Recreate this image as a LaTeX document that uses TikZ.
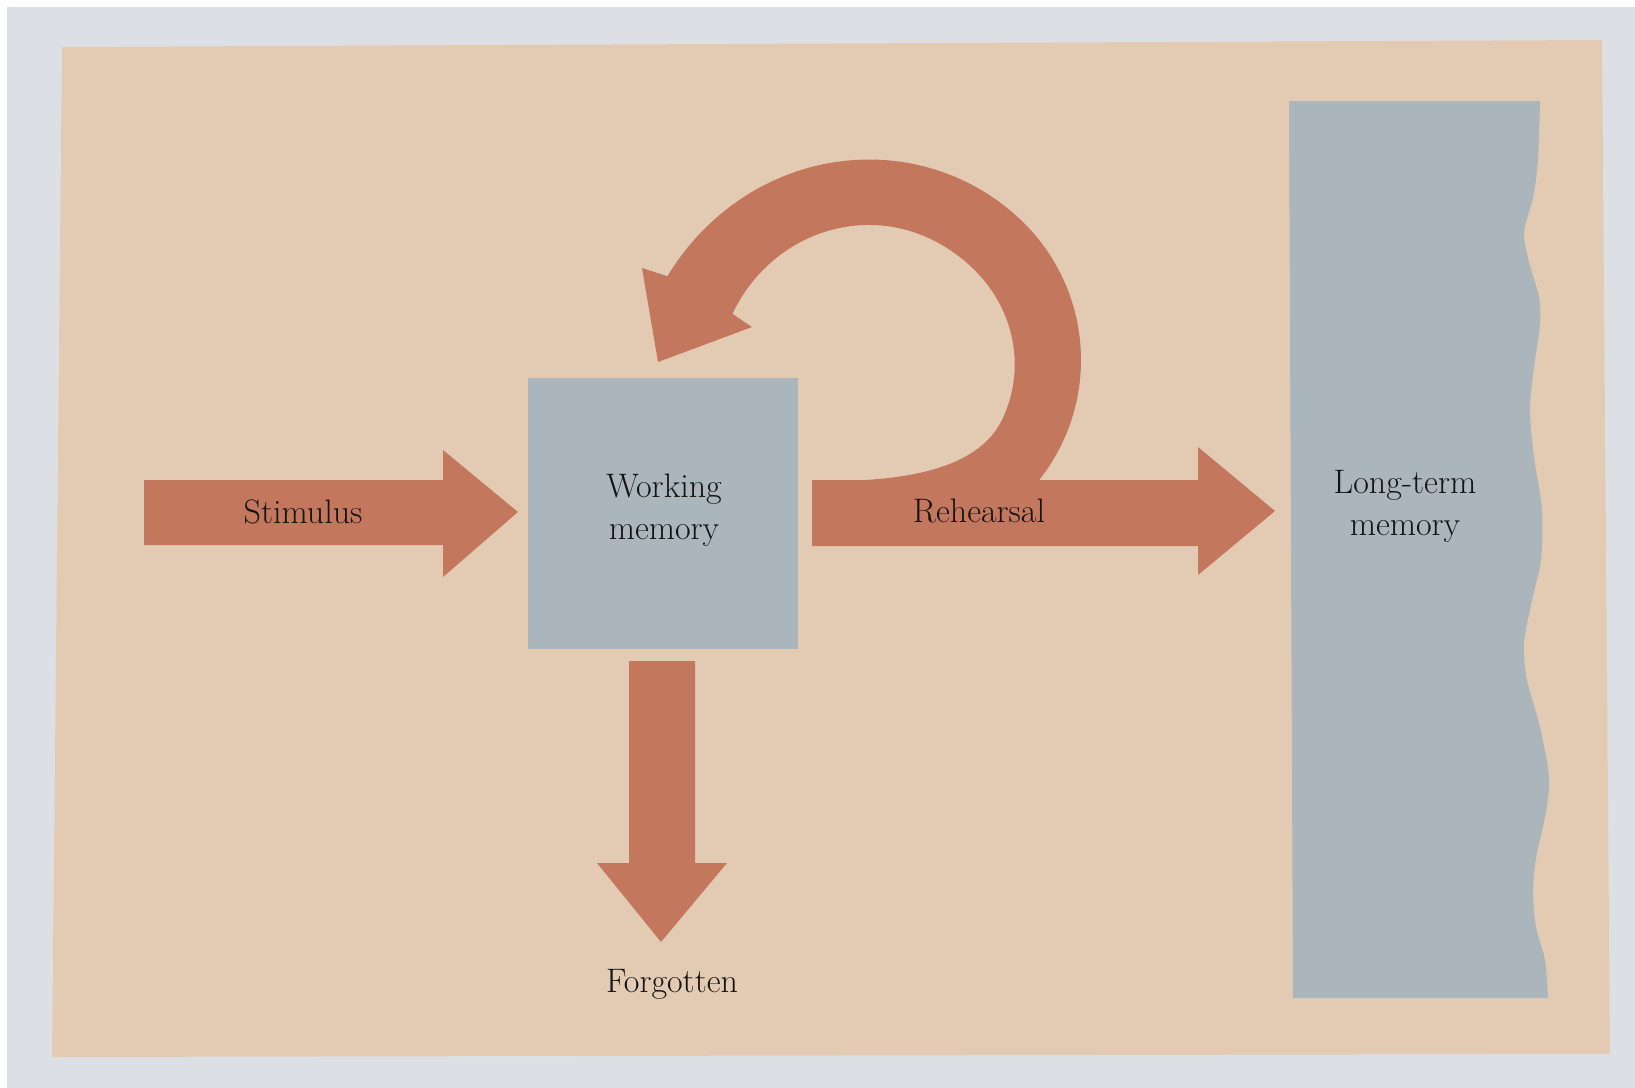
\documentclass[tikz,border=0pt]{standalone}
\definecolor{framec}{HTML}{DCE0E4}
\definecolor{paperc}{HTML}{E3CBB3}
\definecolor{arrowc}{HTML}{C3785E}
\definecolor{panelc}{HTML}{AAB5BC}
\definecolor{inkc}{HTML}{141414}
\begin{document}
\begin{tikzpicture}[x=0.5pt,y=-0.5pt,
  lbl/.style={font=\fontsize{17}{21}\selectfont, text=inkc, inner sep=0pt},
  band/.style={fill=arrowc},
  panel/.style={fill=panelc},
  wmbox/.style={panel, draw=none, minimum width=135pt, minimum height=135.5pt, inner sep=0pt}]
\useasboundingbox (0,0) rectangle (1635,1088);
% page
\fill[framec] (0,0) rectangle (1635,1088);
\fill[white] (0,0) rectangle (1635,7);
\fill[white] (0,0) rectangle (7,1088);
\fill[paperc] (62,47) -- (1602,40) -- (1610,1054) -- (52,1057) -- cycle;
% working memory box
\node[wmbox] (wm) at (663,513.5) {};
% long-term memory panel
\fill[panel] (1289,101) -- plot[smooth] coordinates {(1540,101) (1538,160) (1533,198) (1524,232) (1529,262) (1539,297) (1540,325) (1534,367) (1530,410) (1534,457) (1542,510) (1541,560) (1533,596) (1524,643) (1527,680) (1540,727) (1549,777) (1546,812) (1536,858) (1533,893) (1536,927) (1545,960) (1548,998)} -- (1293,998) -- cycle;
% stimulus arrow
\fill[band] (144,480) -- (443,480) -- (443,450) -- (518,512) -- (443,577) -- (443,545) -- (144,545) -- cycle;
% rehearsal arrow
\fill[band] (812,480) -- (1198,480) -- (1198,447) -- (1275,511) -- (1198,575) -- (1198,546) -- (812,546) -- cycle;
% forgotten arrow
\fill[band] (629,661) -- (695,661) -- (695,863) -- (727,863) -- (661,942) -- (597,863) -- (629,863) -- cycle;
% rehearsal loop (outer and inner edges as spirals round one centre)
\fill[band] (820,483) -- (830,481) .. controls (930,481) and (983.7,459.3) .. (1002.7,418.5)
  -- plot[domain=25:-161.8, samples=90, smooth]
     ({888+(126+0.36*((-58-(\x))+sqrt((-58-(\x))^2+484))/2)*cos(\x)},
      {365+(126+0.36*((-58-(\x))+sqrt((-58-(\x))^2+484))/2)*sin(\x)})
  -- (752,327) -- (658,362) -- (642,268)
  -- plot[domain=-159.2:38, samples=90, smooth]
     ({888+(193+0.0033*(max(0,-45-(\x)))^2)*cos(\x)},
      {360+(193+0.0033*(max(0,-45-(\x)))^2)*sin(\x)})
  -- (1038,484) -- cycle;
% labels
\node[lbl, align=center] (wmt) at (664,510.5) {Working\\memory};
\node[lbl, align=center] (ltm) at (1405,506) {Long-term\\memory};
\node[lbl, anchor=base] (stim) at (303,523) {Stimulus};
\node[lbl, anchor=base] (reh) at (979,522) {Rehearsal};
\node[lbl, anchor=base] (forg) at (672,992) {Forgotten};
\end{tikzpicture}
\end{document}
